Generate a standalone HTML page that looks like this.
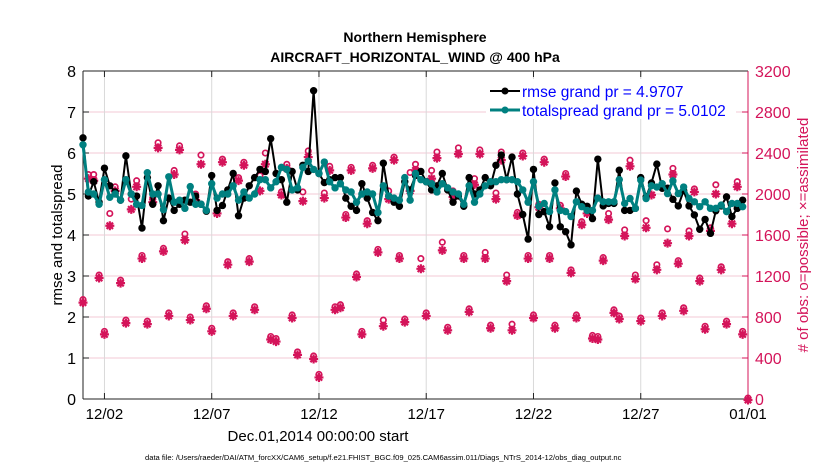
<!DOCTYPE html>
<html><head><meta charset="utf-8"><style>
html,body{margin:0;padding:0;background:#fff;}
svg{display:block;font-family:"Liberation Sans",Arial,sans-serif;}
</style></head><body>
<svg id="chart" width="830" height="470" viewBox="0 0 830 470">
<text x="415" y="42" text-anchor="middle" font-size="14" font-weight="bold">Northern Hemisphere</text>
<text x="415" y="62" text-anchor="middle" font-size="14" font-weight="bold">AIRCRAFT_HORIZONTAL_WIND @ 400 hPa</text>
<g id="grid"></g>
<g id="axes"></g>
<g id="marks"></g>
<g id="legend">
<rect x="486" y="79" width="250" height="40" fill="#fff"/>
<line x1="490" y1="91" x2="520" y2="91" stroke="#000" stroke-width="2"/>
<circle cx="505" cy="91" r="3.5" fill="#000"/>
<text x="522" y="97" font-size="15.5" fill="#0000ff">rmse grand pr = 4.9707</text>
<line x1="490" y1="110" x2="520" y2="110" stroke="#008080" stroke-width="3"/>
<circle cx="505" cy="110" r="3.5" fill="#008080"/>
<text x="522" y="116" font-size="15.5" fill="#0000ff">totalspread grand pr = 5.0102</text>
</g>
<text transform="translate(62,235) rotate(-90)" text-anchor="middle" font-size="15">rmse and totalspread</text>
<text transform="translate(808,235) rotate(-90)" text-anchor="middle" font-size="15" fill="#d4145a"># of obs: o=possible; ×=assimilated</text>
<text x="318" y="441" text-anchor="middle" font-size="15">Dec.01,2014 00:00:00 start</text>
<text x="145" y="460" font-size="7.6">data file: /Users/raeder/DAI/ATM_forcXX/CAM6_setup/f.e21.FHIST_BGC.f09_025.CAM6assim.011/Diags_NTrS_2014-12/obs_diag_output.nc</text>
</svg>
<script>
const xTickLabels = ["12/02","12/07","12/12","12/17","12/22","12/27","01/01"];
const xTickDays = [1,6,11,16,21,26,31];
const yLeftTicks = [0,1,2,3,4,5,6,7,8];
const yRightTicks = [0,400,800,1200,1600,2000,2400,2800,3200];
const rmse = [6.37,4.95,5.3,4.8,5.63,5.2,5.05,4.85,5.93,5.0,4.95,4.17,5.4,4.75,5.2,4.35,4.9,4.6,4.75,4.85,4.8,4.95,4.75,4.58,5.45,4.6,4.72,5.1,5.5,4.47,4.9,5.2,5.4,5.6,5.55,6.35,5.5,5.35,4.8,5.55,5.1,5.7,5.55,7.52,5.5,
5.28,5.35,5.4,5.4,4.9,4.7,4.6,5.25,4.9,4.55,4.35,5.75,4.95,4.8,4.7,5.3,5.1,5.45,5.55,5.3,5.1,5.2,5.5,5.1,4.8,4.95,4.7,5.4,5.0,5.1,5.4,5.2,5.7,5.95,5.35,5.9,5.0,4.5,3.9,5.6,4.5,
4.57,4.2,5.27,4.2,4.08,3.76,5.07,4.75,4.7,4.4,5.85,4.71,4.77,4.77,5.58,4.6,4.6,4.65,5.4,4.93,5.27,5.73,5.14,5.14,4.87,4.71,5.08,4.71,4.49,4.14,4.38,4.04,4.59,4.71,4.93,4.45,4.65,4.85];
const totalspread = [6.2,5.05,5.0,4.75,5.35,4.92,5.0,4.85,5.35,5.0,4.75,4.72,5.52,5.0,5.0,4.62,5.42,4.8,4.85,4.65,5.18,4.75,4.75,4.6,5.25,4.9,5.0,5.0,5.2,4.85,5.05,4.9,5.0,5.35,5.35,5.15,5.3,5.65,5.6,5.1,5.15,5.65,5.8,5.6,5.5,
5.78,5.3,5.15,5.25,5.1,5.05,4.8,5.0,5.05,5.0,4.55,5.2,4.95,4.9,4.85,5.4,4.85,5.5,5.35,5.3,5.25,5.05,5.25,5.15,5.05,5.0,4.75,5.2,4.8,5.0,5.2,5.3,5.3,5.35,5.35,5.35,5.3,5.1,4.8,5.3,4.7,
4.77,4.57,5.1,4.6,4.57,4.45,4.81,4.69,4.6,4.6,4.9,4.81,4.81,4.81,5.35,4.77,4.89,4.65,5.34,4.89,5.2,5.17,5.25,5.01,5.32,5.01,5.17,4.89,4.81,4.69,4.81,4.65,4.65,4.73,4.57,4.77,4.77,4.69];
const obsAssim = [950,2160,2140,1190,640,1700,2040,1140,750,1860,2080,1380,740,1930,2460,1450,820,2200,2440,1560,780,1950,2300,890,670,1820,2320,1320,820,2140,2290,1350,880,2040,2300,590,570,2000,2260,800,440,1940,2370,400,220,
1970,2240,880,900,1780,2240,1200,640,1720,2260,1440,720,1960,2340,1380,760,2040,2240,1280,820,2160,2360,1460,680,1980,2400,1380,860,2100,2400,1380,700,1960,2340,1160,680,1800,2380,1380,800,1880,
2320,1380,700,1870,2180,1240,800,1710,1820,600,590,1360,1760,850,790,1600,2280,1180,770,1680,2000,1270,820,1530,2200,1330,870,1600,2030,1160,690,1650,2010,1270,740,1720,2080,640,0];
const obsPossible = [960,2180,2180,1200,650,1800,2060,1150,760,1940,2120,1390,750,1950,2490,1460,830,2220,2460,1600,790,1990,2370,900,680,1830,2330,1330,830,2150,2300,1360,890,2170,2390,600,580,2010,2280,810,450,2010,2410,410,230,
2000,2260,890,910,1790,2250,1210,650,1730,2270,1450,760,2020,2350,1390,770,2200,2280,1360,830,2220,2400,1520,690,2020,2440,1390,870,2140,2420,1420,710,2000,2400,1200,720,1810,2390,1390,810,1890,
2330,1390,710,1880,2190,1250,810,1720,1840,610,600,1370,1800,860,800,1640,2320,1200,780,1730,2080,1300,830,1650,2240,1340,880,1630,2040,1170,700,1660,2080,1280,750,1770,2110,650,0];

const NS='http://www.w3.org/2000/svg';
const L=83, R=748, T=71, B=399;
const xDay = d => L + (R-L)*d/31;
const xIdx = i => xDay(i*0.25);
const yL = v => B - (B-T)*v/8;
const yR = v => B - (B-T)*v/3200;
function mk(tag, attrs, parent){const e=document.createElementNS(NS,tag);for(const k in attrs)e.setAttribute(k,attrs[k]);parent.appendChild(e);return e;}
const grid=document.getElementById('grid'), axes=document.getElementById('axes'), marks=document.getElementById('marks');
const RED='#d4145a';

yLeftTicks.forEach(v=>{
  if(v>0&&v<8){const g=mk('line',{x1:L,x2:R,y1:yL(v),y2:yL(v),stroke:'#f3c8d6','stroke-width':1},grid);
  
  }
  mk('line',{x1:L,x2:L+6,y1:yL(v),y2:yL(v),stroke:'#222'},axes);
  const t=mk('text',{x:L-7,y:yL(v)+6,'text-anchor':'end','font-size':16},axes);
  t.textContent=v;
  
  
});
yRightTicks.forEach(v=>{
  mk('line',{x1:R-6,x2:R,y1:yR(v),y2:yR(v),stroke:RED},axes);
  const t=mk('text',{x:R+7,y:yR(v)+6,'font-size':16,fill:RED},axes);
  t.textContent=v;
  
  
});
xTickDays.forEach((d,k)=>{
  const g=mk('line',{x1:xDay(d),x2:xDay(d),y1:T,y2:B,stroke:'#d9d9d9','stroke-width':1},grid);
  
  
  mk('line',{x1:xDay(d),x2:xDay(d),y1:B,y2:B-6,stroke:'#222'},axes);
  mk('line',{x1:xDay(d),x2:xDay(d),y1:T,y2:T+6,stroke:'#222'},axes);
  const t=mk('text',{x:xDay(d),y:419,'text-anchor':'middle','font-size':15},axes);
  t.textContent=xTickLabels[k];
  
  
});
mk('line',{x1:L,x2:R,y1:T,y2:T,stroke:'#222'},axes);
mk('line',{x1:L,x2:R,y1:B,y2:B,stroke:'#222'},axes);
mk('line',{x1:L,x2:L,y1:T,y2:B,stroke:'#222'},axes);
mk('line',{x1:R,x2:R,y1:T,y2:B,stroke:RED},axes);

// obs markers
obsPossible.forEach((v,i)=>{
  const c=mk('circle',{cx:xIdx(i),cy:yR(v)-1,r:2.7,fill:'none',stroke:RED,'stroke-width':1.7},marks);
  
  
});
obsAssim.forEach((v,i)=>{
  const x=xIdx(i), y=yR(v)+1, s=4.5;
  const g=mk('path',{d:`M${x-s} ${y}H${x+s}M${x} ${y-s}V${y+s}M${x-3.2} ${y-3.2}L${x+3.2} ${y+3.2}M${x-3.2} ${y+3.2}L${x+3.2} ${y-3.2}`,stroke:RED,'stroke-width':2.2},marks);
  
  
});
function series(arr,color,w,name){
  const p=mk('polyline',{points:arr.map((v,i)=>xIdx(i)+','+yL(v)).join(' '),fill:'none',stroke:color,'stroke-width':w,'stroke-linejoin':'round'},marks);
  
  
  arr.forEach((v,i)=>{
    const c=mk('circle',{cx:xIdx(i),cy:yL(v),r:3.7,fill:color},marks);
    
    
  });
}
series(rmse,'#000',2,'rmse');
series(totalspread,'#008080',3,'totalspread');
marks.parentNode.appendChild(document.getElementById('legend'));
</script>
</body></html>
